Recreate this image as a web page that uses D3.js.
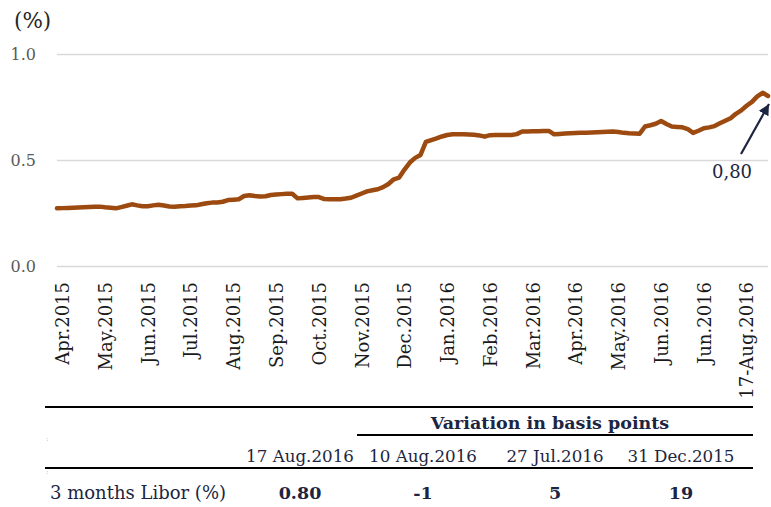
<!DOCTYPE html>
<html>
<head>
<meta charset="utf-8">
<script src="https://cdn.jsdelivr.net/npm/d3@7"></script>
<style>
  html, body { margin: 0; padding: 0; background: #fff; }
  svg { display: block; font-family: "DejaVu Serif", serif; }
</style>
</head>
<body>
<svg id="chart" width="771" height="507"></svg>
<script>
// 3 months Libor (%), roughly one value every few business days
var libor = [
  0.272, 0.273, 0.274, 0.275, 0.276, 0.277, 0.278, 0.279, 0.280, 0.277,
  0.275, 0.272, 0.278, 0.284, 0.291, 0.286, 0.282, 0.282, 0.286, 0.289,
  0.285, 0.281, 0.280, 0.282, 0.283, 0.285, 0.286, 0.291, 0.296, 0.299,
  0.300, 0.303, 0.311, 0.313, 0.315, 0.330, 0.334, 0.330, 0.328, 0.329,
  0.335, 0.337, 0.339, 0.341, 0.341, 0.319, 0.321, 0.323, 0.325, 0.325,
  0.316, 0.315, 0.315, 0.315, 0.318, 0.322, 0.332, 0.342, 0.352, 0.357,
  0.362, 0.372, 0.387, 0.409, 0.417, 0.455, 0.488, 0.510, 0.524, 0.585,
  0.594, 0.602, 0.611, 0.618, 0.621, 0.621, 0.621, 0.620, 0.619, 0.616,
  0.610, 0.617, 0.618, 0.618, 0.618, 0.618, 0.622, 0.634, 0.635, 0.636,
  0.636, 0.637, 0.637, 0.621, 0.623, 0.625, 0.626, 0.627, 0.628, 0.629,
  0.630, 0.631, 0.632, 0.633, 0.634, 0.632, 0.628, 0.626, 0.625, 0.624,
  0.658, 0.664, 0.671, 0.684, 0.670, 0.658, 0.656, 0.654, 0.646, 0.628,
  0.638, 0.650, 0.654, 0.660, 0.673, 0.685, 0.697, 0.718, 0.734, 0.756,
  0.774, 0.800, 0.817, 0.802
];

// category labels shown under the chart (one every 8 samples)
var monthLabels = [
  "Apr.2015", "May.2015", "Jun.2015", "Jul.2015", "Aug.2015", "Sep.2015",
  "Oct.2015", "Nov.2015", "Dec.2015", "Jan.2016", "Feb.2016", "Mar.2016",
  "Apr.2016", "May.2016", "Jun.2016", "Jun.2016", "17-Aug.2016"
];
var yTicks = [0, 0.5, 1.0];
var lastValueLabel = "0,80";

// table under the chart
var tableHeadDates = ["17 Aug.2016", "10 Aug.2016", "27 Jul.2016", "31 Dec.2015"];
var tableRowLabel = "3 months Libor (%)";
var tableRowValues = ["0.80", "-1", "5", "19"];
var variationTitle = "Variation in basis points";

var svg = d3.select("#chart");
var navy = "#1c2541";

var plot = { left: 57, right: 768, top: 54, bottom: 266 };

var x = d3.scaleLinear()
  .domain([0, libor.length - 1])
  .range([plot.left, plot.right]);
var y = d3.scaleLinear()
  .domain([0, 1])
  .range([plot.bottom, plot.top]);

// gridlines + y labels
var yAxis = svg.append("g")
  .attr("transform", "translate(" + plot.left + ",0)")
  .call(d3.axisLeft(y)
    .tickValues(yTicks)
    .tickFormat(d3.format(".1f"))
    .tickSize(-(plot.right - plot.left))
    .tickPadding(21));
yAxis.select(".domain").remove();
yAxis.selectAll(".tick line").attr("stroke", "#d9d9d9").attr("stroke-width", 1.5);
yAxis.selectAll(".tick text")
  .attr("fill", "#595959")
  .style("font-size", "16px")
  .style("font-family", "DejaVu Serif, serif");

svg.append("text")
  .attr("x", 14).attr("y", 28)
  .attr("fill", "#262626")
  .style("font-size", "21.5px")
  .text("(%)");

// x category labels, rotated
var labelIdx = monthLabels.map(function (d, i) { return 1 + i * 8; });
var xAxis = svg.append("g")
  .attr("transform", "translate(0," + plot.bottom + ")")
  .call(d3.axisBottom(x)
    .tickValues(labelIdx)
    .tickFormat(function (d, i) { return monthLabels[i]; })
    .tickSize(0));
xAxis.select(".domain").remove();
xAxis.selectAll(".tick text")
  .attr("transform", "rotate(-90)")
  .attr("text-anchor", "end")
  .attr("x", -16)
  .attr("y", 0)
  .attr("dy", "0.35em")
  .attr("fill", "#1a1a1a")
  .style("font-size", "18px")
  .style("font-family", "DejaVu Serif, serif");

// the line
var line = d3.line()
  .x(function (d, i) { return x(i); })
  .y(function (d) { return y(d); });

svg.append("path")
  .datum(libor)
  .attr("fill", "none")
  .attr("stroke", "#9c4a10")
  .attr("stroke-width", 4.5)
  .attr("stroke-linejoin", "round")
  .attr("stroke-linecap", "round")
  .attr("d", line);

// annotation arrow pointing to the last value
svg.append("defs").append("marker")
  .attr("id", "arrow")
  .attr("viewBox", "0 0 10 10")
  .attr("refX", 10).attr("refY", 5)
  .attr("markerWidth", 5).attr("markerHeight", 5)
  .attr("markerUnits", "strokeWidth")
  .attr("orient", "auto")
  .append("path")
  .attr("d", "M0,0 L10,5 L0,10 z")
  .attr("fill", navy);

var lastI = libor.length - 1;
var tipX = x(lastI) + 1, tipY = y(libor[lastI]) + 8;
svg.append("line")
  .attr("x1", tipX - 28).attr("y1", tipY + 50)
  .attr("x2", tipX).attr("y2", tipY)
  .attr("stroke", navy)
  .attr("stroke-width", 2.2)
  .attr("marker-end", "url(#arrow)");

svg.append("text")
  .attr("x", tipX - 37).attr("y", tipY + 74)
  .attr("text-anchor", "middle")
  .attr("fill", navy)
  .style("font-size", "18px")
  .text(lastValueLabel);

// ---- table ----
var tbl = svg.append("g").attr("fill", navy);
var tLeft = 45, tRight = 753;
var colX = [300, 423, 555, 681];

function rule(x1, x2, yy) {
  tbl.append("line")
    .attr("x1", x1).attr("x2", x2)
    .attr("y1", yy).attr("y2", yy)
    .attr("stroke", "#000")
    .attr("stroke-width", 2);
}
rule(tLeft, tRight, 407);
rule(357, tRight, 435);
rule(tLeft, tRight, 468);

tbl.append("text")
  .attr("x", 550).attr("y", 429)
  .attr("text-anchor", "middle")
  .style("font-size", "17.5px")
  .style("font-weight", "bold")
  .text(variationTitle);

tbl.selectAll("text.head")
  .data(tableHeadDates)
  .enter().append("text")
  .attr("class", "head")
  .attr("x", function (d, i) { return colX[i]; })
  .attr("y", 462)
  .attr("text-anchor", "middle")
  .style("font-size", "16.7px")
  .text(function (d) { return d; });

tbl.append("text")
  .attr("x", 50).attr("y", 499)
  .style("font-size", "18px")
  .text(tableRowLabel);

tbl.selectAll("text.val")
  .data(tableRowValues)
  .enter().append("text")
  .attr("class", "val")
  .attr("x", function (d, i) { return colX[i]; })
  .attr("y", 499)
  .attr("text-anchor", "middle")
  .style("font-size", "17.5px")
  .style("font-weight", "bold")
  .text(function (d) { return d; });

// faint marks at the left of the table
tbl.append("text").attr("x", 46).attr("y", 441)
  .attr("fill", "#bbb").style("font-size", "8px").text(":");
tbl.append("text").attr("x", 46).attr("y", 474)
  .attr("fill", "#bbb").style("font-size", "8px").text(":");
</script>
</body>
</html>
